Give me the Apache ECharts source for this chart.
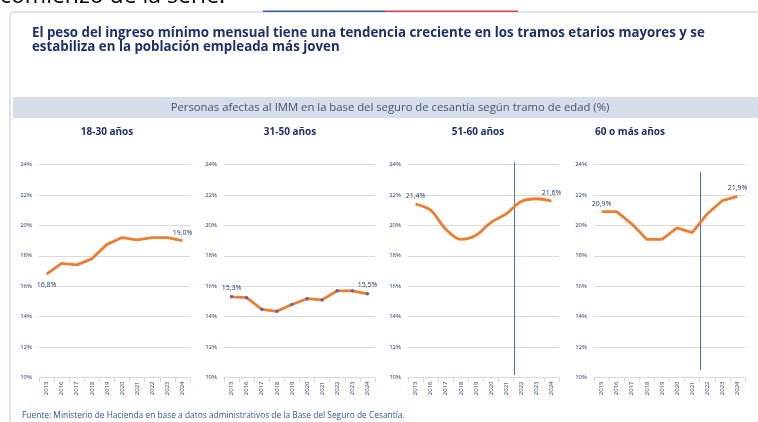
<!DOCTYPE html>
<html>
<head>
<meta charset="utf-8">
<script src="https://cdn.jsdelivr.net/npm/echarts@6/dist/echarts.min.js"></script>
<style>
  html, body { margin: 0; padding: 0; background: #fff; }
  #main { width: 758px; height: 422px; }
</style>
</head>
<body>
<div id="main"></div>
<script>
// datos
const years = ['2015', '2016', '2017', '2018', '2019', '2020', '2021', '2022', '2023', '2024'];
const tramos = ['18-30 años', '31-50 años', '51-60 años', '60 o más años'];
const tramo1830 = [16.8, 17.5, 17.4, 17.8, 18.75, 19.2, 19.05, 19.2, 19.2, 19.0];
const tramo3150 = [15.3, 15.25, 14.48, 14.35, 14.8, 15.18, 15.1, 15.7, 15.7, 15.5];
const tramo5160 = [21.4, 21.0, 19.75, 19.08, 19.35, 20.2, 20.75, 21.57, 21.75, 21.6];
const tramo60 = [20.9, 20.9, 20.1, 19.08, 19.08, 19.83, 19.52, 20.75, 21.63, 21.9];
const yTicks = [10, 12, 14, 16, 18, 20, 22, 24];

const navy = '#1f3864';
const naranja = '#ED7D31';

let chart = echarts.init(document.getElementById('main'));

// posicion de cada panel
const lefts = [39, 224, 408, 594];
const titleX = [107, 290, 478, 630];
const firstLabelPos = ['bottom', 'top', 'top', 'top'];
const series4 = [tramo1830, tramo3150, tramo5160, tramo60];
// linea vertical entre 2021 y 2022 (x=7 en el eje oculto)
const cortes = [null, null, [7, 24.16, 10.16], [7, 23.5, 10.5]];

function fmt(v) {
  return v.toFixed(1).replace('.', ',') + '%';
}

let grids = [], xAxes = [], yAxes = [], series = [];
series4.forEach(function (vals, i) {
  grids.push({ left: lefts[i], width: 151, top: 164.5, height: 213 });
  xAxes.push({
    type: 'category', gridIndex: i, data: years,
    axisLine: { lineStyle: { color: '#d9d9d9' } },
    axisTick: { show: true, lineStyle: { color: '#d9d9d9' } },
    axisLabel: { rotate: 90, fontSize: 6, color: navy, fontFamily: 'Open Sans', margin: 4 }
  });
  xAxes.push({ type: 'value', gridIndex: i, min: 0, max: 10, show: false });
  yAxes.push({
    type: 'value', gridIndex: i, min: yTicks[0], max: yTicks[yTicks.length - 1], interval: 2,
    axisLine: { show: false }, axisTick: { show: false },
    splitLine: { lineStyle: { color: '#d9d9d9' } },
    axisLabel: { fontSize: 6, color: navy, fontFamily: 'Open Sans', margin: 7, formatter: '{value}%' }
  });
  let data = vals.map(function (v, k) {
    if (k === 0 || k === vals.length - 1) {
      return {
        value: v,
        label: {
          show: true,
          position: k === 0 ? firstLabelPos[i] : 'top',
          distance: k === 0 && i === 0 ? 7 : 4,
          formatter: function (p) { return fmt(p.value); }
        }
      };
    }
    return v;
  });
  series.push({
    type: 'line', xAxisIndex: i * 2, yAxisIndex: i,
    data: data,
    smooth: i === 2 ? 0.35 : false,
    showSymbol: true,
    symbol: 'circle', symbolSize: i === 1 ? 3.5 : 1,
    itemStyle: { color: i === 1 ? '#5a6aa8' : 'rgba(0,0,0,0)' },
    lineStyle: { color: naranja, width: 2.8 },
    label: { color: navy, fontSize: 7, fontFamily: 'Open Sans' },
    animation: false
  });
  if (cortes[i]) {
    series.push({
      type: 'custom', xAxisIndex: i * 2 + 1, yAxisIndex: i,
      data: [cortes[i]],
      clip: false, silent: true, animation: false,
      renderItem: function (params, api) {
        let p1 = api.coord([api.value(0), api.value(1)]);
        let p2 = api.coord([api.value(0), api.value(2)]);
        let x = Math.round(p1[0]) + 0.5;
        return {
          type: 'line',
          shape: { x1: x, y1: p1[1], x2: x, y2: p2[1] },
          style: { stroke: '#4472c4', lineWidth: 1 }
        };
      }
    });
  }
});

let graphics = [
  { type: 'text', x: 0, y: 8, style: { text: 'comienzo de la serie.', font: '23px "Open Sans"', fill: '#000', verticalAlign: 'bottom' } },
  { type: 'rect', shape: { x: 10, y: 12, width: 800, height: 440, r: 4 }, style: { fill: 'none', stroke: '#d3dbe9', lineWidth: 1.5 } },
  { type: 'rect', shape: { x: 263, y: 10.5, width: 122, height: 1.5 }, style: { fill: '#2f5fa8' } },
  { type: 'rect', shape: { x: 385, y: 10.5, width: 133, height: 1.5 }, style: { fill: '#d9434a' } },
  { type: 'text', left: 32, top: 26, style: { text: 'El peso del ingreso mínimo mensual tiene una tendencia creciente en los tramos etarios mayores y se\nestabiliza en la población empleada más joven', font: 'bold 13.3px "Open Sans"', fill: '#1f2f6b', lineHeight: 14 } },
  { type: 'rect', shape: { x: 13, y: 97, width: 760, height: 21 }, style: { fill: '#d6deec' } },
  { type: 'text', x: 390, y: 108, style: { text: 'Personas afectas al IMM en la base del seguro de cesantía según tramo de edad (%)', font: '11.3px "Open Sans"', fill: '#44546a', align: 'center', verticalAlign: 'middle' } },
  { type: 'text', left: 22, top: 412, style: { text: 'Fuente: Ministerio de Hacienda en base a datos administrativos de la Base del Seguro de Cesantía.', font: '8.4px "Open Sans"', fill: '#2f5597' } }
];
tramos.forEach(function (t, i) {
  graphics.push({ type: 'text', x: titleX[i], y: 132, style: { text: t, font: 'bold 10px "Open Sans"', fill: '#1f2f6b', align: 'center', verticalAlign: 'middle' } });
});

let option = {
  backgroundColor: '#fff',
  animation: false,
  grid: grids,
  xAxis: xAxes,
  yAxis: yAxes,
  series: series,
  graphic: { elements: graphics }
};
chart.setOption(option);
</script>
</body>
</html>
